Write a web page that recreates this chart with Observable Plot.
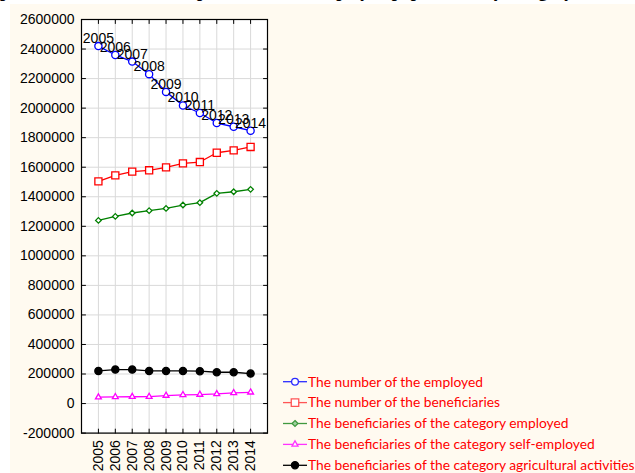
<!DOCTYPE html>
<html>
<head>
<meta charset="utf-8">
<script src="https://cdn.jsdelivr.net/npm/d3@7"></script>
<script src="https://cdn.jsdelivr.net/npm/@observablehq/plot@0.6"></script>
<style>
  html, body { margin: 0; padding: 0; background: #ffffff; }
  #wrap { position: relative; width: 635px; height: 473px; overflow: hidden; background: #ffffff; }
  #cream { position: absolute; left: 10px; top: 4px; right: 0; bottom: 0; background: #fffaf0; }
  #title { position: absolute; left: 0; top: -18.2px; white-space: nowrap; font: bold 18px "Liberation Serif", serif; line-height: 18px; color: #000; }
  #chart { position: absolute; left: 0; top: 0; }
  #legend { position: absolute; left: 0; top: 0; }
</style>
</head>
<body>
<div id="wrap">
  <div id="cream"></div>
  <div id="title">pension beneficiaries compared with the employed population, by category</div>
  <div id="chart"></div>
  <svg id="legend" width="635" height="473"></svg>
</div>
<script>
// ---- data ----
const years = [2005, 2006, 2007, 2008, 2009, 2010, 2011, 2012, 2013, 2014];
const employed       = [2420000, 2360000, 2315000, 2230000, 2110000, 2018000, 1967000, 1899000, 1874000, 1847000];
const beneficiaries  = [1504000, 1545000, 1570000, 1579000, 1599000, 1626000, 1635000, 1698000, 1714000, 1737000];
const benEmployed    = [1240000, 1267000, 1290000, 1306000, 1321000, 1344000, 1360000, 1423000, 1434000, 1450000];
const benSelfEmployed= [43000, 45000, 46000, 47000, 54000, 59000, 61000, 65000, 72000, 76000];
const benAgricultural= [221000, 230000, 230000, 221000, 221000, 221000, 219000, 212000, 212000, 203000];

const seriesNames = [
  "The number of the employed",
  "The number of the beneficiaries",
  "The beneficiaries of the category employed",
  "The beneficiaries of the category self-employed",
  "The beneficiaries of the category agricultural activities"
];
const seriesValues = [employed, beneficiaries, benEmployed, benSelfEmployed, benAgricultural];
const seriesColors = ["#0000ff", "#ff0000", "#008000", "#ff00ff", "#000000"];
const legendColors = ["#2b2bff", "#ff5555", "#3f993f", "#ff33ff", "#000000"];
const yTicks = [-200000, 0, 200000, 400000, 600000, 800000, 1000000, 1200000, 1400000,
                1600000, 1800000, 2000000, 2200000, 2400000, 2600000];
const xDomain = [2004, 2015];
const yDomain = [-200000, 2600000];

// ---- build rows ----
const rows = [];
seriesNames.forEach((name, i) => {
  years.forEach((yr, j) => rows.push({ series: name, year: yr, value: seriesValues[i][j] }));
});
const bySeries = name => rows.filter(r => r.series === name);

const tickShape = { draw(context, l) { context.moveTo(0, 0); context.lineTo(0, -l); } };
const tickOpts = { length: 4, anchor: "start", shape: tickShape, stroke: "#000", strokeWidth: 1 };

const symbolSpec = [
  { symbol: "circle",    r: 3.6, fill: "white" },
  { symbol: "square",    r: 4.0, fill: "white" },
  { symbol: "diamond2",  r: 2.5, fill: "white" },
  { symbol: "triangle2", r: 2.8, fill: "white" },
  { symbol: "circle",    r: 3.6, fill: "#000" }
];

const chart = Plot.plot({
  width: 635,
  height: 473,
  marginLeft: 81,
  marginRight: 368,
  marginTop: 19,
  marginBottom: 40.4,
  style: { background: "transparent", fontFamily: "'Liberation Sans', Arial, sans-serif", fontSize: "14px", color: "#000" },
  x: { domain: xDomain, label: null },
  y: { domain: yDomain, label: null },
  color: { domain: seriesNames, range: seriesColors },
  marks: [
    Plot.frame({ fill: "white", stroke: null }),
    Plot.gridX(years, { stroke: "#d9d9d9", strokeOpacity: 1, strokeWidth: 1 }),
    Plot.gridY(yTicks, { stroke: "#d9d9d9", strokeOpacity: 1, strokeWidth: 1 }),
    Plot.vector(yTicks, { y: d => d, frameAnchor: "left", rotate: 90, ...tickOpts }),
    Plot.vector(yTicks, { y: d => d, frameAnchor: "right", rotate: -90, ...tickOpts }),
    Plot.vector(years, { x: d => d, frameAnchor: "bottom", rotate: 0, ...tickOpts }),
    Plot.vector(years, { x: d => d, frameAnchor: "top", rotate: 180, ...tickOpts }),
    Plot.frame({ stroke: "#000", strokeWidth: 1.2 }),
    Plot.axisY(yTicks, { tickSize: 0, tickPadding: 7, tickFormat: d => String(d), fontSize: 14, label: null }),
    Plot.axisX(years, { tickSize: 0, tickPadding: 7, tickRotate: -90, tickFormat: d => String(d), fontSize: 14, label: null }),
    Plot.line(rows, { x: "year", y: "value", z: "series", stroke: "series", strokeWidth: 1.3 }),
    ...seriesNames.map((name, i) => Plot.dot(bySeries(name), {
      x: "year", y: "value", symbol: symbolSpec[i].symbol, r: symbolSpec[i].r,
      stroke: seriesColors[i], fill: symbolSpec[i].fill, strokeWidth: 1.3
    })),
    Plot.text(bySeries(seriesNames[0]), {
      x: "year", y: "value", text: d => String(d.year), dy: -3, lineAnchor: "bottom",
      textAnchor: "middle", fontSize: 14, fill: "#000"
    })
  ]
});
document.getElementById("chart").appendChild(chart);

// ---- legend ----
const legend = d3.select("#legend");
const lx0 = 283, lx1 = 307, ly0 = 381.7, lstep = 20.9;
const legendSymbols = [d3.symbolCircle, d3.symbolSquare, d3.symbolDiamond2, d3.symbolTriangle2, d3.symbolCircle];
const legendSizes = [36, 56, 22, 26, 40];
seriesNames.forEach((name, i) => {
  const y = ly0 + i * lstep;
  const g = legend.append("g");
  g.append("line").attr("x1", lx0).attr("x2", lx1).attr("y1", y).attr("y2", y)
    .attr("stroke", legendColors[i]).attr("stroke-width", 1.3);
  g.append("path").attr("transform", `translate(${(lx0 + lx1) / 2},${y})`)
    .attr("d", d3.symbol(legendSymbols[i], legendSizes[i])())
    .attr("fill", i === 4 ? "#000" : (i === 2 ? "#9fd09f" : "white"))
    .attr("stroke", legendColors[i]).attr("stroke-width", 1.3);
  g.append("text").attr("x", lx1 + 1).attr("y", y).attr("dy", "0.35em")
    .attr("fill", "#ff0000").attr("font-family", "Lato, 'Open Sans', sans-serif")
    .attr("font-size", 13.8).text(name);
});
</script>
</body>
</html>
